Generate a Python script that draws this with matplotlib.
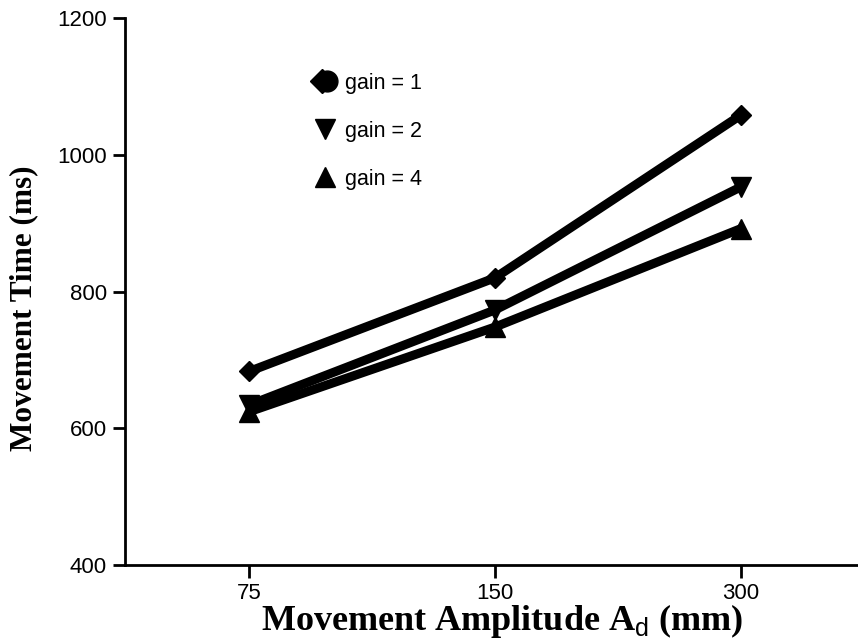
import matplotlib
matplotlib.use("Agg")
from matplotlib import pyplot as plt
from matplotlib.lines import Line2D
from matplotlib.legend_handler import HandlerTuple

# Mean movement time per target amplitude, one series per gain
amplitudes = ["75", "150", "300"]
gain_1 = [683, 820, 1058]
gain_2 = [634, 773, 953]
gain_4 = [624, 748, 892]
y_ticks = [400, 600, 800, 1000, 1200]

plt.rcParams["font.family"] = "Liberation Sans"
plt.rcParams["mathtext.fontset"] = "custom"
plt.rcParams["mathtext.sf"] = "Liberation Sans"

fig = plt.figure(figsize=(8.58, 6.44), dpi=100)
ax = fig.add_axes([125 / 858, 1 - 565 / 644, 1 - 125 / 858, (565 - 18) / 644])

x = list(range(len(amplitudes)))
lw = 6.5
ax.plot(x, gain_1, color="black", lw=lw, marker="D", ms=10, solid_capstyle="butt")
ax.plot(x, gain_2, color="black", lw=lw, marker="v", ms=14, solid_capstyle="butt")
ax.plot(x, gain_4, color="black", lw=lw, marker="^", ms=14, solid_capstyle="butt")

ax.set_xlim(-0.504, 2.476)
ax.set_ylim(400, 1200)
ax.set_xticks(x)
ax.set_xticklabels(amplitudes)
ax.set_yticks(y_ticks)

for side in ("top", "right"):
    ax.spines[side].set_visible(False)
for side in ("left", "bottom"):
    ax.spines[side].set_linewidth(2)
ax.tick_params(direction="out", length=9, width=2, labelsize=16, pad=4)

ax.set_ylabel("Movement Time (ms)", family="Liberation Serif", weight="bold",
              fontsize=22.5)
ax.set_xlabel(r"Movement Amplitude A$_\mathsf{d}$ (mm)", family="Liberation Serif",
              weight="bold", fontsize=26)
ax.yaxis.set_label_coords(-0.118, 0.47)
ax.xaxis.set_label_coords(0.514, -0.068)

# legend entry for gain = 1 is a diamond merged with a dot
h1 = (Line2D([], [], color="black", marker="D", ms=12, ls="none"),
      Line2D([], [], color="black", marker="o", ms=15, ls="none"))
h2 = Line2D([], [], color="black", marker="v", ms=15, ls="none")
h4 = Line2D([], [], color="black", marker="^", ms=15, ls="none")
ax.legend([h1, h2, h4], ["gain = 1", "gain = 2", "gain = 4"],
          handler_map={tuple: HandlerTuple(ndivide=None, pad=-0.6)},
          loc="upper left", bbox_to_anchor=(0.23, 0.935), frameon=False,
          fontsize=15.5, handlelength=1.1, handletextpad=0.4, labelspacing=1.25)

fig.savefig("out.png", dpi=100)
